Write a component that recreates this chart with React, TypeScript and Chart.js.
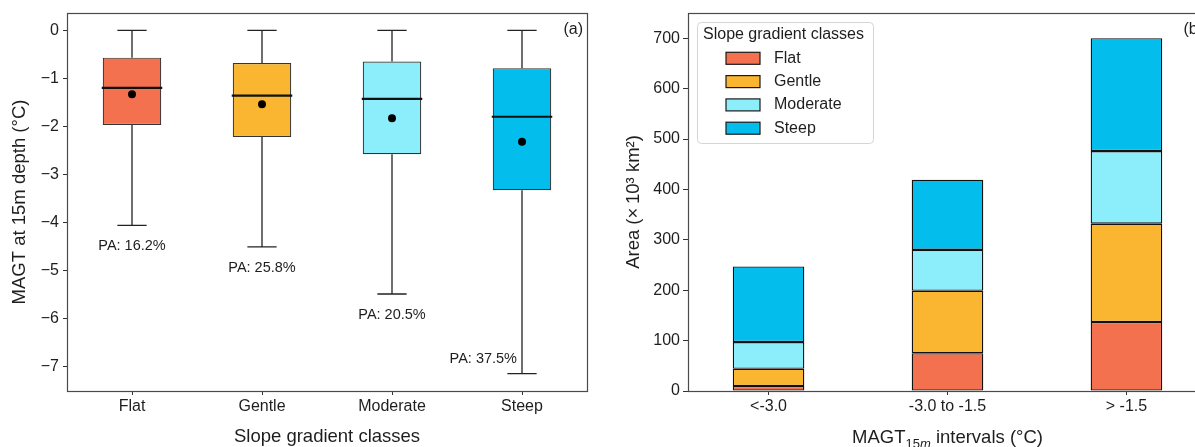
import React, { useEffect, useRef } from 'react';
import { Chart, registerables } from 'chart.js';

Chart.register(...registerables);

const FONT = "'Liberation Sans', Arial, Helvetica, sans-serif";
const TEXT = '#1e1e1e';
const AXIS = '#4a4a4a';

// ---- Panel (a): MAGT at 15 m depth by slope gradient class ----
const slopeClasses = ['Flat', 'Gentle', 'Moderate', 'Steep'];
const whiskerHigh = [0, 0, 0, 0];
const upperQuartile = [-0.57, -0.68, -0.65, -0.79];
const medianValues = [-1.2, -1.36, -1.43, -1.8];
const meanValues = [-1.33, -1.54, -1.83, -2.32];
const lowerQuartile = [-1.97, -2.22, -2.58, -3.33];
const whiskerLow = [-4.06, -4.51, -5.49, -7.15];
const paLabels = ['PA: 16.2%', 'PA: 25.8%', 'PA: 20.5%', 'PA: 37.5%'];
const magtTicks = [-7, -6, -5, -4, -3, -2, -1, 0];

// ---- Panel (b): area by MAGT interval, stacked by slope class ----
const intervalLabels = ['<-3.0', '-3.0 to -1.5', '> -1.5'];
const flatArea = [10, 75, 137];
const gentleArea = [34, 124, 195];
const moderateArea = [53, 81, 144];
const steepArea = [150, 139, 224];
const areaTicks = [0, 100, 200, 300, 400, 500, 600, 700];

const classColors = ['#F4714F', '#FBB631', '#8DEEFB', '#03BEEC'];

const framePlugin = {
  id: 'frame',
  afterDatasetsDraw(chart: any) {
    const { ctx, chartArea: ca } = chart;
    ctx.save();
    ctx.strokeStyle = AXIS;
    ctx.lineWidth = 1.2;
    ctx.strokeRect(Math.round(ca.left) + 0.5, Math.round(ca.top) + 0.5, Math.round(ca.right - ca.left), Math.round(ca.bottom - ca.top));
    ctx.restore();
  },
};

const panelLabelPlugin = (text: string) => ({
  id: 'panelLabel',
  afterDraw(chart: any) {
    const { ctx, chartArea: ca } = chart;
    ctx.save();
    ctx.font = `16px ${FONT}`;
    ctx.fillStyle = TEXT;
    ctx.textAlign = 'right';
    ctx.textBaseline = 'middle';
    ctx.fillText(text, ca.right - 4, ca.top + 17);
    ctx.restore();
  },
});

const boxPlotPlugin = {
  id: 'boxWhiskers',
  afterDatasetsDraw(chart: any) {
    const { ctx } = chart;
    const x = chart.scales.x;
    const y = chart.scales.y;
    const meta = chart.getDatasetMeta(0);
    ctx.save();
    meta.data.forEach((bar: any, i: number) => {
      const cx = x.getPixelForValue(i);
      const half = bar.width / 2;
      const cap = bar.width / 4;
      ctx.strokeStyle = '#222';
      ctx.lineWidth = 1.3;
      ctx.beginPath();
      ctx.moveTo(cx, y.getPixelForValue(upperQuartile[i]));
      ctx.lineTo(cx, y.getPixelForValue(whiskerHigh[i]));
      ctx.moveTo(cx, y.getPixelForValue(lowerQuartile[i]));
      ctx.lineTo(cx, y.getPixelForValue(whiskerLow[i]));
      ctx.moveTo(cx - cap, y.getPixelForValue(whiskerHigh[i]));
      ctx.lineTo(cx + cap, y.getPixelForValue(whiskerHigh[i]));
      ctx.moveTo(cx - cap, y.getPixelForValue(whiskerLow[i]));
      ctx.lineTo(cx + cap, y.getPixelForValue(whiskerLow[i]));
      ctx.stroke();
      // median
      ctx.strokeStyle = '#111';
      ctx.lineWidth = 2.2;
      ctx.beginPath();
      const my = y.getPixelForValue(medianValues[i]);
      ctx.moveTo(cx - half - 1, my);
      ctx.lineTo(cx + half + 1, my);
      ctx.stroke();
      // mean marker
      ctx.fillStyle = '#000';
      ctx.beginPath();
      ctx.arc(cx, y.getPixelForValue(meanValues[i]), 4, 0, Math.PI * 2);
      ctx.fill();
      // PA label
      ctx.font = `14.5px ${FONT}`;
      ctx.fillStyle = TEXT;
      ctx.textBaseline = 'middle';
      const ly = y.getPixelForValue(whiskerLow[i]);
      if (i === slopeClasses.length - 1) {
        ctx.textAlign = 'right';
        ctx.fillText(paLabels[i], cx - 5, ly - 15);
      } else {
        ctx.textAlign = 'center';
        ctx.fillText(paLabels[i], cx, ly + 21);
      }
    });
    ctx.restore();
  },
};

const legendPlugin = {
  id: 'slopeLegend',
  afterDraw(chart: any) {
    const { ctx, chartArea: ca } = chart;
    const x0 = ca.left + 9;
    const y0 = ca.top + 9;
    const w = 176;
    const h = 121;
    ctx.save();
    ctx.beginPath();
    if ((ctx as any).roundRect) (ctx as any).roundRect(x0 + 0.5, y0 + 0.5, w, h, 4);
    else ctx.rect(x0 + 0.5, y0 + 0.5, w, h);
    ctx.fillStyle = 'rgba(255,255,255,0.85)';
    ctx.fill();
    ctx.strokeStyle = '#d4d4d4';
    ctx.lineWidth = 1;
    ctx.stroke();
    ctx.font = `16px ${FONT}`;
    ctx.fillStyle = TEXT;
    ctx.textAlign = 'left';
    ctx.textBaseline = 'middle';
    ctx.fillText('Slope gradient classes', x0 + 6, ca.top + 22);
    chart.data.datasets.forEach((ds: any, i: number) => {
      const cy = ca.top + 45.3 + i * 23.3;
      ctx.fillStyle = ds.backgroundColor;
      ctx.fillRect(x0 + 29, cy - 6, 34, 12);
      ctx.strokeStyle = '#1a1a1a';
      ctx.lineWidth = 1.2;
      ctx.strokeRect(x0 + 29, cy - 6, 34, 12);
      ctx.fillStyle = TEXT;
      ctx.fillText(ds.label, x0 + 77, cy);
    });
    ctx.restore();
  },
};

const magtTitlePlugin = {
  id: 'magtTitle',
  afterDraw(chart: any) {
    const { ctx } = chart;
    const x = chart.scales.x;
    const cx = x.getPixelForValue(1);
    const base = 443;
    const parts: [string, string, number][] = [
      ['MAGT', `18.5px ${FONT}`, 0],
      ['15', `13px ${FONT}`, 4.5],
      ['m', `italic 13px ${FONT}`, 4.5],
      [' intervals (°C)', `18.5px ${FONT}`, 0],
    ];
    ctx.save();
    ctx.fillStyle = TEXT;
    ctx.textAlign = 'left';
    ctx.textBaseline = 'alphabetic';
    let total = 0;
    const widths = parts.map(([t, f]) => {
      ctx.font = f;
      const wd = ctx.measureText(t).width;
      total += wd;
      return wd;
    });
    let px = cx - total / 2;
    parts.forEach(([t, f, dy], i) => {
      ctx.font = f;
      ctx.fillText(t, px, base + dy);
      px += widths[i];
    });
    ctx.restore();
  },
};

const tickFont = { family: FONT, size: 16, lineHeight: 1 };
const titleFont = { family: FONT, size: 18.5, lineHeight: 1 };
const minusFmt = (v: number) => (v < 0 ? '\u2212' + Math.abs(v) : String(v));

function leftConfig(): any {
  return {
    type: 'bar',
    data: {
      labels: slopeClasses,
      datasets: [
        {
          type: 'bar',
          label: 'IQR',
          data: slopeClasses.map((_, i) => [lowerQuartile[i], upperQuartile[i]]),
          backgroundColor: classColors,
          borderColor: '#333',
          borderWidth: 1.2,
          borderSkipped: false,
          barPercentage: 0.45,
          categoryPercentage: 1,
        },
      ],
    },
    options: {
      responsive: false,
      maintainAspectRatio: false,
      animation: false,
      layout: { padding: { left: 0, right: 13, top: 13, bottom: 0 } },
      plugins: { legend: { display: false }, tooltip: { enabled: false } },
      scales: {
        x: {
          type: 'category',
          offset: true,
          grid: { offset: false, drawOnChartArea: false, drawTicks: true, tickLength: 4, color: '#333' },
          border: { display: false },
          ticks: { font: tickFont, color: TEXT, padding: 4, maxRotation: 0 },
          title: { display: true, text: 'Slope gradient classes', font: titleFont, color: TEXT, padding: { top: 0, bottom: 1.3 } },
          afterFit: (s: any) => { s.height = 56; },
        },
        y: {
          type: 'linear',
          min: -7.51,
          max: 0.36,
          afterBuildTicks: (s: any) => { s.ticks = magtTicks.map((v) => ({ value: v })); },
          grid: { drawOnChartArea: false, drawTicks: true, tickLength: 4, color: '#333' },
          border: { display: false },
          ticks: { font: tickFont, color: TEXT, padding: 4, callback: (v: any) => minusFmt(Number(v)) },
          title: { display: true, text: 'MAGT at 15m depth (°C)', font: titleFont, color: TEXT, padding: { top: 10.75, bottom: 0 } },
          afterFit: (s: any) => { s.width = 67; },
        },
      },
    },
    plugins: [boxPlotPlugin, framePlugin, panelLabelPlugin('(a)')],
  };
}

function rightConfig(): any {
  const series = [flatArea, gentleArea, moderateArea, steepArea];
  return {
    type: 'bar',
    data: {
      datasets: slopeClasses.map((name, k) => ({
        label: name,
        data: series[k].map((v, i) => ({ x: i, y: v })),
        backgroundColor: classColors[k],
        borderColor: '#111',
        borderWidth: 1.3,
        borderSkipped: false,
        barPercentage: 0.4,
        categoryPercentage: 1,
      })),
    },
    options: {
      responsive: false,
      maintainAspectRatio: false,
      animation: false,
      layout: { padding: { left: 0, right: 8, top: 13, bottom: 0 } },
      plugins: { legend: { display: false }, tooltip: { enabled: false } },
      scales: {
        x: {
          type: 'linear',
          stacked: true,
          offset: false,
          min: -0.45,
          max: 2.45,
          afterBuildTicks: (s: any) => { s.ticks = intervalLabels.map((_, i) => ({ value: i })); },
          grid: { offset: false, drawOnChartArea: false, drawTicks: true, tickLength: 4, color: '#333' },
          border: { display: false },
          ticks: { font: tickFont, color: TEXT, padding: 4, maxRotation: 0, callback: (v: any) => intervalLabels[Number(v)] ?? '' },
          afterFit: (s: any) => { s.height = 56; },
        },
        y: {
          type: 'linear',
          stacked: true,
          min: 0,
          max: 750,
          afterBuildTicks: (s: any) => { s.ticks = areaTicks.map((v) => ({ value: v })); },
          grid: { drawOnChartArea: false, drawTicks: true, tickLength: 5, color: '#333' },
          border: { display: false },
          ticks: { font: tickFont, color: TEXT, padding: 3 },
          title: { display: true, text: 'Area (×\u200910³ km²)', font: titleFont, color: TEXT, padding: { top: 24.75, bottom: 0 } },
          afterFit: (s: any) => { s.width = 88; },
        },
      },
    },
    plugins: [framePlugin, legendPlugin, magtTitlePlugin, panelLabelPlugin('(b)')],
  };
}

export default function App() {
  const leftRef = useRef<HTMLCanvasElement>(null);
  const rightRef = useRef<HTMLCanvasElement>(null);

  useEffect(() => {
    const left = new Chart(leftRef.current as HTMLCanvasElement, leftConfig());
    const right = new Chart(rightRef.current as HTMLCanvasElement, rightConfig());
    return () => {
      left.destroy();
      right.destroy();
    };
  }, []);

  return (
    <div style={{ position: 'fixed', left: 0, top: 0, width: 1195, height: 447, overflow: 'hidden', background: '#fff' }}>
      <canvas ref={leftRef} width={600} height={447} style={{ position: 'absolute', left: 0, top: 0, width: 600, height: 447 }} />
      <canvas ref={rightRef} width={615} height={447} style={{ position: 'absolute', left: 600, top: 0, width: 615, height: 447 }} />
    </div>
  );
}
